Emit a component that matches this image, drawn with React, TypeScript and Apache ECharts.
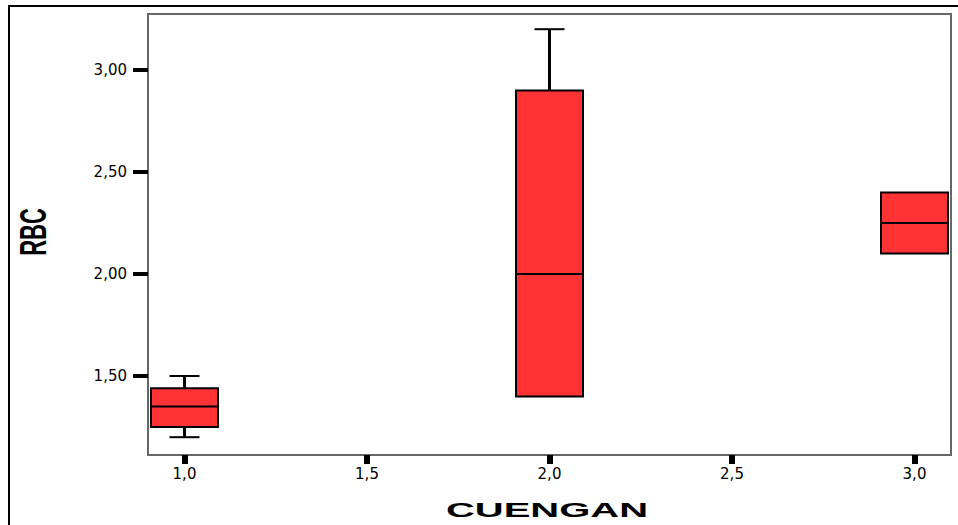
import React, { useEffect, useRef } from "react";
import * as echarts from "echarts";

// Data (SPSS style)
const groupX = [1, 2, 3];
const whiskerLow = [1.2, 1.4, 2.1];
const quartile1 = [1.25, 1.4, 2.1];
const medians = [1.35, 2.0, 2.25];
const quartile3 = [1.44, 2.9, 2.4];
const whiskerHigh = [1.5, 3.2, 2.4];

const xTickValues = [1, 1.5, 2, 2.5, 3];
const yTickValues = [1.5, 2, 2.5, 3];

const xAxisTitle = "CUENGAN";
const yAxisTitle = "RBC";

export default function App() {
  const ref = useRef<HTMLDivElement>(null);

  useEffect(() => {
    document.body.style.margin = "0";
    if (!ref.current) return;
    const chart = echarts.init(ref.current, null, { renderer: "svg" });

    const boxData = groupX.map((x, i) => [
      x,
      whiskerLow[i],
      quartile1[i],
      medians[i],
      quartile3[i],
      whiskerHigh[i],
    ]);

    const BOX_W = 67;
    const CAP_W = 30;

    const option: any = {
      animation: false,
      backgroundColor: "#ffffff",
      grid: {
        left: 148,
        top: 14,
        right: 7,
        bottom: 70,
        show: true,
        borderColor: "#666666",
        borderWidth: 2,
        backgroundColor: "transparent",
      },
      xAxis: {
        type: "value",
        min: 0.9,
        max: 3.1,
        axisLine: { show: false },
        splitLine: { show: false },
        axisTick: {
          show: true,
          inside: false,
          length: 9,
          customValues: xTickValues,
          lineStyle: { color: "#000", width: 6 },
        },
        axisLabel: {
          show: true,
          customValues: xTickValues,
          margin: 11,
          fontFamily: "DejaVu Sans",
          fontSize: 15,
          color: "#000",
          formatter: (v: number) => v.toFixed(1).replace(".", ","),
        },
      },
      yAxis: {
        type: "value",
        min: 1.1127,
        max: 3.2745,
        axisLine: { show: false },
        splitLine: { show: false },
        axisTick: {
          show: true,
          inside: false,
          length: 15,
          customValues: yTickValues,
          lineStyle: { color: "#000", width: 4 },
        },
        axisLabel: {
          show: true,
          customValues: yTickValues,
          margin: 21,
          fontFamily: "DejaVu Sans",
          fontSize: 15,
          color: "#000",
          formatter: (v: number) => v.toFixed(2).replace(".", ","),
        },
      },
      graphic: [
        {
          type: "rect",
          shape: { x: 9, y: 6, width: 980, height: 560 },
          style: { fill: "none", stroke: "#000", lineWidth: 2 },
          silent: true,
        },
        {
          type: "text",
          x: 33,
          y: 232,
          rotation: Math.PI / 2,
          scaleX: 1,
          scaleY: 1.7,
          style: {
            text: yAxisTitle,
            x: 0,
            y: 0,
            align: "center",
            verticalAlign: "middle",
            fontFamily: "Liberation Sans",
            fontWeight: "bold",
            fontSize: 22,
            fill: "#000",
          },
        },
        {
          type: "text",
          x: 547,
          y: 510,
          scaleX: 2.0,
          scaleY: 1,
          style: {
            text: xAxisTitle,
            x: 0,
            y: 0,
            align: "center",
            verticalAlign: "middle",
            fontFamily: "Liberation Sans",
            fontWeight: "bold",
            fontSize: 20,
            fill: "#000",
          },
        },
      ],
      series: [
        {
          type: "custom",
          data: boxData,
          encode: { x: 0, y: [1, 2, 3, 4, 5] },
          renderItem: (params: any, api: any) => {
            const x = api.value(0);
            const lo = api.value(1);
            const q1 = api.value(2);
            const md = api.value(3);
            const q3 = api.value(4);
            const hi = api.value(5);
            const cx = api.coord([x, md])[0];
            const yLo = api.coord([x, lo])[1];
            const yQ1 = api.coord([x, q1])[1];
            const yMd = api.coord([x, md])[1];
            const yQ3 = api.coord([x, q3])[1];
            const yHi = api.coord([x, hi])[1];
            const hw = BOX_W / 2;
            const cw = CAP_W / 2;
            const children: any[] = [];
            if (hi > q3) {
              children.push({
                type: "line",
                shape: { x1: cx, y1: yQ3, x2: cx, y2: yHi },
                style: { stroke: "#000", lineWidth: 3 },
              });
              children.push({
                type: "line",
                shape: { x1: cx - cw, y1: yHi, x2: cx + cw, y2: yHi },
                style: { stroke: "#000", lineWidth: 2 },
              });
            }
            if (lo < q1) {
              children.push({
                type: "line",
                shape: { x1: cx, y1: yQ1, x2: cx, y2: yLo },
                style: { stroke: "#000", lineWidth: 3 },
              });
              children.push({
                type: "line",
                shape: { x1: cx - cw, y1: yLo, x2: cx + cw, y2: yLo },
                style: { stroke: "#000", lineWidth: 2 },
              });
            }
            children.push({
              type: "rect",
              shape: { x: cx - hw, y: yQ3, width: BOX_W, height: yQ1 - yQ3 },
              style: { fill: "#ff3333", stroke: "#000", lineWidth: 2 },
            });
            children.push({
              type: "line",
              shape: { x1: cx - hw, y1: yMd, x2: cx + hw, y2: yMd },
              style: { stroke: "#000", lineWidth: 2 },
            });
            return { type: "group", children };
          },
        },
      ],
    };

    chart.setOption(option);
    return () => {
      chart.dispose();
    };
  }, []);

  return <div ref={ref} style={{ width: 958, height: 525 }} />;
}
